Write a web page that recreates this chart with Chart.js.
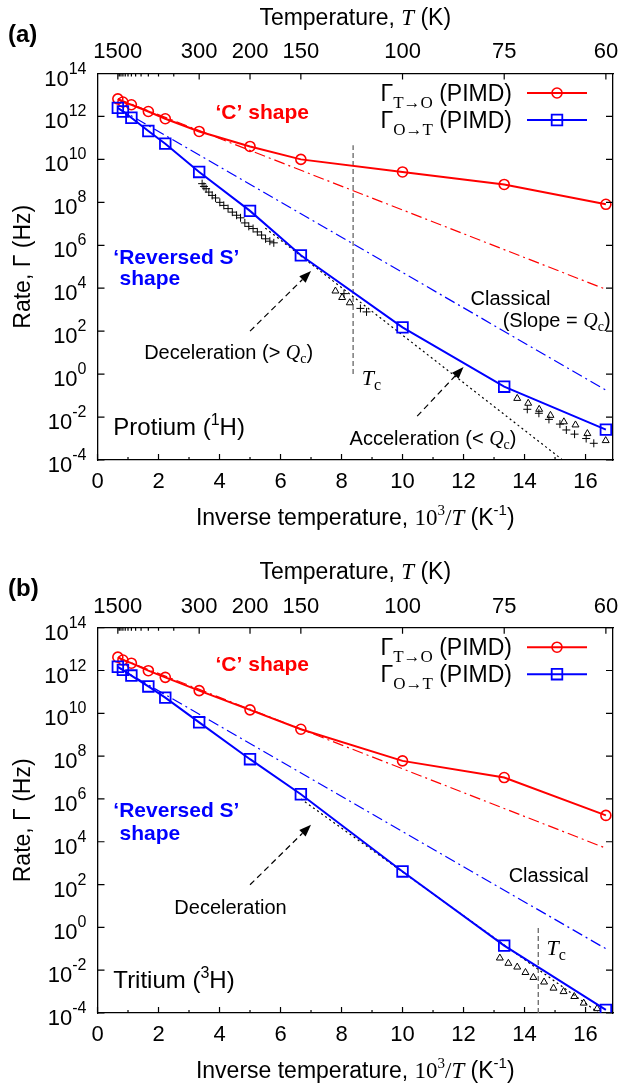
<!DOCTYPE html>
<html><head><meta charset="utf-8">
<script src="https://cdn.jsdelivr.net/npm/chart.js@4.4.1/dist/chart.umd.min.js"></script>
<style>
html,body{margin:0;padding:0;background:#fff;}
#wrap{position:relative;width:618px;height:1092px;overflow:hidden;}
canvas{position:absolute;left:0;}
</style></head><body>
<div id="wrap">
<canvas id="ca" width="618" height="546" style="top:0;width:618px;height:546px"></canvas>
<canvas id="cb" width="618" height="546" style="top:546px;width:618px;height:546px"></canvas>
</div>
<script>
// ---------- data (x = inverse temperature 10^3/T, y = rate in Hz) ----------
const invT = [0.667, 0.833, 1.111, 1.667, 2.222, 3.333, 5.0, 6.667, 10.0, 13.333, 16.667];
const aRateTO = [6.6e12, 4.7e12, 3.5e12, 1.7e12, 7.8e11, 2.0e11, 4.0e10, 1.0e10, 2.6e9, 6.8e8, 8.1e7];
const aRateOT = [2.5e12, 1.7e12, 8.7e11, 2.1e11, 5.4e10, 2.6e9, 4.0e7, 3.4e5, 1.5e2, 2.6e-1, 2.6e-3];
const bRateTO = [4.2e12, 3.1e12, 2.2e12, 9.8e11, 4.8e11, 1.15e11, 1.45e10, 1.8e9, 6.0e7, 1.0e7, 1.7e5];
const bRateOT = [1.5e12, 1.07e12, 5.8e11, 1.8e11, 5.4e10, 3.8e9, 7.2e7, 1.66e6, 4.1e2, 1.4e-1, 1.4e-4];
const classX = [0.667, 16.667];
const aClassTO = [6.6e12, 8.9e3];
const aClassOT = [2.5e12, 1.8e-1];
const bClassTO = [4.0e12, 5.0e3];
const bClassOT = [1.4e12, 1.0e-1];
const aDotX = [5.5, 15.25];
const aDotY = [6.3e6, 1.0e-4];
const bDotX = [6.667, 16.4];
const bDotY = [1.0e6, 1.1e-4];
const aPlusX = [3.43,3.49,3.56,3.65,3.76,3.87,4.01,4.14,4.28,4.42,4.56,4.69,4.83,4.96,5.10,5.24,5.38,5.51,5.65,5.78,8.08,8.62,8.82,14.09,14.47,14.80,15.16,15.37,15.64,16.02,16.27];
const aPlusY = [7.4e8,5.5e8,4.3e8,3.0e8,2.1e8,1.6e8,1.0e8,7.2e7,5.1e7,3.5e7,2.5e7,1.9e7,1.1e7,7.6e6,6.0e6,4.2e6,3.0e6,2.0e6,1.55e6,1.3e6,5.6e3,1.15e3,7.9e2,2.3e-2,1.5e-2,7.8e-3,4.7e-3,2.5e-3,1.6e-3,1.0e-3,6.0e-4];
const aTriX = [7.80,8.02,8.27,13.76,14.12,14.48,14.85,15.29,15.67,16.06,16.66];
const aTriY = [7.4e3,3.7e3,2.1e3,7.4e-2,4.4e-2,2.3e-2,1.2e-2,6.0e-3,4.3e-3,1.7e-3,8.0e-4];
const bTriX = [13.19,13.47,13.76,14.03,14.29,14.64,14.95,15.28,15.63,15.94,16.38];
const bTriY = [3.7e-2,2.1e-2,1.4e-2,7.8e-3,4.6e-3,2.8e-3,1.45e-3,1.0e-3,5.9e-4,2.9e-4,1.6e-4];
const aTcX = [8.38, 8.38];
const aTcY = [1.0, 4.5e10];
const bTcX = [14.45, 14.45];
const bTcY = [1.0e-4, 1.0];
// ticks
const xTicks = [0,1,2,3,4,5,6,7,8,9,10,11,12,13,14,15,16];
const topTickT = [1500,1400,1300,1200,1100,1000,900,800,700,600,500,400,300,200,150,100,75,60];
const topMajorT = [1500,300,200,150,100,75,60];
const yTicks = [1e-4,1e-2,1e0,1e2,1e4,1e6,1e8,1e10,1e12,1e14];

// ---------- styling / drawing ----------
const SANS = '"Liberation Sans", Arial, Helvetica, sans-serif';
const SERIF = '"Liberation Serif", "Times New Roman", Times, serif';
const RED = '#ff0000', BLUE = '#0000ff';
function F(size, fam, style){ return (style ? style + ' ' : '') + size + 'px ' + (fam || SANS); }
function pts(xs, ys){ return xs.map((x, i) => ({x: x, y: ys[i]})); }
function runs(ctx, parts, x, y, align){
  let w = 0;
  parts.forEach(p => { ctx.font = p[1]; w += ctx.measureText(p[0]).width; });
  let cx = align === 'center' ? x - w / 2 : (align === 'right' ? x - w : x);
  ctx.textAlign = 'left'; ctx.textBaseline = 'alphabetic';
  parts.forEach(p => { ctx.font = p[1]; ctx.fillText(p[0], cx, y + (p[2] || 0)); cx += ctx.measureText(p[0]).width; });
}
function arrow(ctx, x1, y1, x2, y2){
  ctx.save();
  ctx.strokeStyle = '#000'; ctx.fillStyle = '#000'; ctx.lineWidth = 1.2; ctx.setLineDash([6, 4]);
  const ang = Math.atan2(y2 - y1, x2 - x1), hl = 12, hw = 4.5;
  const bx = x2 - hl * Math.cos(ang), by = y2 - hl * Math.sin(ang);
  ctx.beginPath(); ctx.moveTo(x1, y1); ctx.lineTo(bx, by); ctx.stroke();
  ctx.setLineDash([]);
  ctx.beginPath(); ctx.moveTo(x2, y2);
  ctx.lineTo(bx - hw * Math.sin(ang), by + hw * Math.cos(ang));
  ctx.lineTo(bx + hw * Math.sin(ang), by - hw * Math.cos(ang));
  ctx.closePath(); ctx.fill();
  ctx.restore();
}

const panelA = {
  id: 'a', label: '(a)', topH: 73.5, bottomH: 86,
  rateTO: aRateTO, rateOT: aRateOT, classTO: aClassTO, classOT: aClassOT,
  dotX: aDotX, dotY: aDotY, plusX: aPlusX, plusY: aPlusY, triX: aTriX, triY: aTriY, tcX: aTcX, tcY: aTcY,
  texts: [
    {parts: [['\u2018C\u2019 shape', F(21, SANS, 'bold')]], x: 5.4, ly: 12.22, align: 'center', color: RED, size: 21},
    {parts: [['\u2018Reversed S\u2019', F(21, SANS, 'bold')]], x: 0.52, ly: 5.48, align: 'left', color: BLUE, size: 21},
    {parts: [['shape', F(21, SANS, 'bold')]], x: 0.72, ly: 4.49, align: 'left', color: BLUE, size: 21},
    {parts: [['Protium (', F(24)], ['1', F(16), -10], ['H)', F(24)]], x: 0.52, ly: -2.43, align: 'left', color: '#000', size: 24},
    {parts: [['Deceleration (> ', F(20)], ['Q', F(20, SERIF, 'italic')], ['c', F(14, SERIF), 4], [')', F(20)]], x: 4.3, ly: 1.06, align: 'center', color: '#000', size: 20},
    {parts: [['Acceleration (< ', F(20)], ['Q', F(20, SERIF, 'italic')], ['c', F(14, SERIF), 4], [')', F(20)]], x: 11.0, ly: -2.95, align: 'center', color: '#000', size: 20},
    {parts: [['Classical', F(20)]], x: 13.54, ly: 3.54, align: 'center', color: '#000', size: 20},
    {parts: [['(Slope = ', F(20)], ['Q', F(20, SERIF, 'italic')], ['c', F(14, SERIF), 4], [')', F(20)]], x: 16.82, ly: 2.53, align: 'right', color: '#000', size: 20},
    {parts: [['T', F(22, SERIF, 'italic')], ['c', F(16, SERIF), 5]], x: 8.66, ly: -0.16, align: 'left', color: '#000', size: 20}
  ],
  arrows: [[5.0, 2.0, 7.0, 4.8], [10.48, -1.96, 12.0, 0.33]]
};
const panelB = {
  id: 'b', label: '(b)', topH: 81.7, bottomH: 79,
  rateTO: bRateTO, rateOT: bRateOT, classTO: bClassTO, classOT: bClassOT,
  dotX: bDotX, dotY: bDotY, plusX: null, plusY: null, triX: bTriX, triY: bTriY, tcX: bTcX, tcY: bTcY,
  texts: [
    {parts: [['\u2018C\u2019 shape', F(21, SANS, 'bold')]], x: 5.4, ly: 12.34, align: 'center', color: RED, size: 21},
    {parts: [['\u2018Reversed S\u2019', F(21, SANS, 'bold')]], x: 0.52, ly: 5.49, align: 'left', color: BLUE, size: 21},
    {parts: [['shape', F(21, SANS, 'bold')]], x: 0.72, ly: 4.43, align: 'left', color: BLUE, size: 21},
    {parts: [['Tritium (', F(24)], ['3', F(16), -10], ['H)', F(24)]], x: 0.52, ly: -2.45, align: 'left', color: '#000', size: 24},
    {parts: [['Deceleration', F(20)]], x: 4.36, ly: 0.97, align: 'center', color: '#000', size: 20},
    {parts: [['Classical', F(20)]], x: 14.79, ly: 2.45, align: 'center', color: '#000', size: 20},
    {parts: [['T', F(22, SERIF, 'italic')], ['c', F(16, SERIF), 5]], x: 14.72, ly: -0.95, align: 'left', color: '#000', size: 20}
  ],
  arrows: [[5.0, 1.99, 7.0, 4.79]]
};

function datasetsFor(P){
  const clear = 'rgba(0,0,0,0)';
  const list = [
    {data: pts(P.dotX, P.dotY), borderColor: '#000', borderWidth: 1.2, borderDash: [2, 3], pointRadius: 0},
    {data: pts(classX, P.classTO), borderColor: RED, borderWidth: 1.2, borderDash: [11, 4, 2, 4], pointRadius: 0},
    {data: pts(classX, P.classOT), borderColor: BLUE, borderWidth: 1.2, borderDash: [11, 4, 2, 4], pointRadius: 0},
    {data: pts(P.tcX, P.tcY), borderColor: '#666', borderWidth: 1.3, borderDash: [5, 3], pointRadius: 0},
    P.plusX ? {data: pts(P.plusX, P.plusY), showLine: false, pointStyle: 'cross', pointRadius: 4, pointBorderColor: '#000', pointBorderWidth: 1, borderColor: '#000'} : null,
    {data: pts(P.triX, P.triY), showLine: false, pointStyle: 'triangle', pointRadius: 4, pointBorderColor: '#000', pointBorderWidth: 1, pointBackgroundColor: clear, borderColor: '#000'},
    {data: pts(invT, P.rateTO), borderColor: RED, borderWidth: 2, pointStyle: 'circle', pointRadius: 5, pointBorderColor: RED, pointBorderWidth: 1.6, pointBackgroundColor: clear},
    {data: pts(invT, P.rateOT), borderColor: BLUE, borderWidth: 2, pointStyle: 'rect', pointRadius: 7.5, pointBorderColor: BLUE, pointBorderWidth: 1.8, pointBackgroundColor: clear}
  ].filter(Boolean);
  return list.reverse(); // first dataset is drawn on top
}

function decoPlugin(P){
  return {
    id: 'deco' + P.id,
    afterDraw(chart){
      const ctx = chart.ctx, a = chart.chartArea;
      const xs = chart.scales.x, x2 = chart.scales.x2, ys = chart.scales.y;
      ctx.save();
      // inward tick marks
      ctx.strokeStyle = '#000'; ctx.lineWidth = 1.2; ctx.beginPath();
      xTicks.forEach(v => { const px = xs.getPixelForValue(v); const L = v % 2 === 0 ? 6 : 3; ctx.moveTo(px, a.bottom); ctx.lineTo(px, a.bottom - L); });
      topTickT.forEach(T => { const px = x2.getPixelForValue(1000 / T); const L = topMajorT.includes(T) ? 6 : 3; ctx.moveTo(px, a.top); ctx.lineTo(px, a.top + L); });
      yTicks.forEach(v => { const py = ys.getPixelForValue(v); ctx.moveTo(a.left, py); ctx.lineTo(a.left + 7, py); ctx.moveTo(a.right, py); ctx.lineTo(a.right - 7, py); });
      ctx.stroke();
      ctx.fillStyle = '#000';
      // y tick labels 10^n
      yTicks.forEach(v => {
        const e = Math.round(Math.log10(v)); const py = ys.getPixelForValue(v);
        runs(ctx, [['10', F(22)], [String(e), F(16), -12]], a.left - 11, py + 12, 'right');
      });
      // panel label
      ctx.font = F(24, SANS, 'bold'); ctx.textAlign = 'left'; ctx.textBaseline = 'alphabetic';
      ctx.fillText(P.label, 8, a.top - 32);
      // top title
      const cx = (a.left + a.right) / 2;
      runs(ctx, [['Temperature, ', F(23)], ['T', F(23, SERIF, 'italic')], [' (K)', F(23)]], cx, a.top - 48.5, 'center');
      // bottom title
      runs(ctx, [['Inverse temperature, ', F(23)], ['10', F(23, SERIF)], ['3', F(15, SERIF), -10], ['/', F(23, SERIF)], ['T', F(23, SERIF, 'italic')], [' (K', F(23)], ['-1', F(15), -10], [')', F(23)]], cx, a.bottom + 65, 'center');
      // y title
      ctx.save();
      ctx.translate(30, (a.top + a.bottom) / 2); ctx.rotate(-Math.PI / 2);
      runs(ctx, [['Rate, \u0393 (Hz)', F(23)]], 0, 0, 'center');
      ctx.restore();
      // legend
      const rows = [
        {sub: 'T\u2192O', color: RED, style: 'circle', dy: 19.5},
        {sub: 'O\u2192T', color: BLUE, style: 'rect', dy: 46.5}
      ];
      rows.forEach(r => {
        const yy = a.top + r.dy;
        ctx.fillStyle = '#000';
        runs(ctx, [['\u0393', F(23)], [r.sub, F(17, SERIF), 7], [' (PIMD)', F(23)]], 512, yy + 8, 'right');
        ctx.strokeStyle = r.color; ctx.lineWidth = 2; ctx.setLineDash([]);
        ctx.beginPath(); ctx.moveTo(527, yy); ctx.lineTo(587, yy); ctx.stroke();
        ctx.lineWidth = r.style === 'circle' ? 1.6 : 1.8;
        ctx.beginPath();
        if (r.style === 'circle') ctx.arc(557, yy, 5, 0, Math.PI * 2); else ctx.rect(557 - 5.3, yy - 5.3, 10.6, 10.6);
        ctx.stroke();
      });
      // annotation texts
      P.texts.forEach(t => {
        ctx.fillStyle = t.color;
        const px = xs.getPixelForValue(t.x), py = ys.getPixelForValue(Math.pow(10, t.ly)) + t.size * 0.36;
        runs(ctx, t.parts, px, py, t.align);
      });
      // arrows
      P.arrows.forEach(ar => {
        arrow(ctx, xs.getPixelForValue(ar[0]), ys.getPixelForValue(Math.pow(10, ar[1])), xs.getPixelForValue(ar[2]), ys.getPixelForValue(Math.pow(10, ar[3])));
      });
      ctx.restore();
    }
  };
}

function makeChart(canvasId, P){
  const axisCommon = {grid: {display: false, drawTicks: false}, border: {display: true, color: '#000', width: 1.3}};
  const noPad = s => { s.paddingLeft = 0; s.paddingRight = 0; s.paddingTop = 0; s.paddingBottom = 0; };
  return new Chart(document.getElementById(canvasId), {
    type: 'line',
    data: {datasets: datasetsFor(P)},
    options: {
      responsive: false, animation: false, devicePixelRatio: 1, events: [],
      layout: {padding: 0, autoPadding: false},
      plugins: {legend: {display: false}, tooltip: {enabled: false}},
      scales: {
        x: Object.assign({type: 'linear', position: 'bottom', min: 0, max: 16.9,
          afterBuildTicks: s => { s.ticks = xTicks.map(v => ({value: v})); },
          afterFit: s => { s.height = P.bottomH; noPad(s); },
          ticks: {autoSkip: false, maxRotation: 0, minRotation: 0, padding: 9, color: '#000', font: {family: SANS, size: 22},
            callback: v => (v % 2 === 0 ? String(v) : '')}}, axisCommon),
        x2: Object.assign({type: 'linear', position: 'top', min: 0, max: 16.9,
          afterBuildTicks: s => { s.ticks = topTickT.map(T => ({value: 1000 / T})); },
          afterFit: s => { s.height = P.topH; noPad(s); },
          ticks: {autoSkip: false, maxRotation: 0, minRotation: 0, padding: 8, color: '#000', font: {family: SANS, size: 22},
            callback: (v, i) => (topMajorT.includes(topTickT[i]) ? String(topTickT[i]) : '')}}, axisCommon),
        y: Object.assign({type: 'logarithmic', position: 'left', min: 1e-4, max: 1e14,
          afterBuildTicks: s => { s.ticks = yTicks.map(v => ({value: v})); },
          afterFit: s => { s.width = 97.5; noPad(s); },
          ticks: {display: false}}, axisCommon),
        y2: Object.assign({type: 'logarithmic', position: 'right', min: 1e-4, max: 1e14,
          afterBuildTicks: s => { s.ticks = yTicks.map(v => ({value: v})); },
          afterFit: s => { s.width = 5; noPad(s); },
          ticks: {display: false}}, axisCommon)
      }
    },
    plugins: [decoPlugin(P)]
  });
}
makeChart('ca', panelA);
makeChart('cb', panelB);
</script>
</body></html>
